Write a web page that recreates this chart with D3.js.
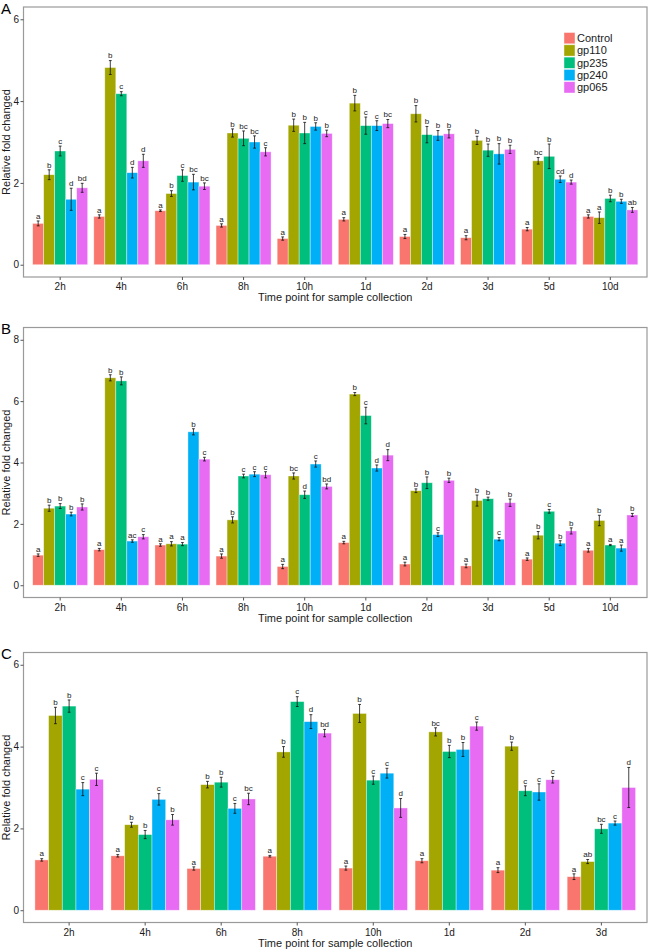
<!DOCTYPE html>
<html>
<head>
<meta charset="utf-8">
<script src="https://cdn.jsdelivr.net/npm/d3@7"></script>
<style>
  html, body { margin: 0; padding: 0; background: #fff; }
  svg { display: block; font-family: "Liberation Sans", Arial, sans-serif; }
</style>
</head>
<body>
<svg id="chart" width="650" height="950"></svg>
<script>
// ---- data ----
const groups = ["Control", "gp110", "gp235", "gp240", "gp065"];
const colors = ["#F8766D", "#A3A500", "#00BF7D", "#00B0F6", "#E76BF3"];

const timesAB = ["2h", "4h", "6h", "8h", "10h", "1d", "2d", "3d", "5d", "10d"];
const timesC = ["2h", "4h", "6h", "8h", "10h", "1d", "2d", "3d"];

const meansA = [
  [1.01, 2.20, 2.78, 1.60, 1.88],
  [1.18, 4.82, 4.18, 2.25, 2.54],
  [1.32, 1.74, 2.18, 2.02, 1.92],
  [0.96, 3.22, 3.09, 3.00, 2.76],
  [0.64, 3.41, 3.22, 3.38, 3.21],
  [1.11, 3.95, 3.40, 3.40, 3.45],
  [0.69, 3.69, 3.18, 3.16, 3.20],
  [0.66, 3.04, 2.80, 2.71, 2.82],
  [0.87, 2.54, 2.65, 2.09, 2.02],
  [1.18, 1.15, 1.62, 1.55, 1.34]
];
const errA = [
  [0.06, 0.12, 0.12, 0.27, 0.11],
  [0.04, 0.17, 0.05, 0.13, 0.16],
  [0.02, 0.07, 0.14, 0.19, 0.08],
  [0.04, 0.10, 0.18, 0.15, 0.10],
  [0.04, 0.15, 0.26, 0.09, 0.08],
  [0.04, 0.19, 0.21, 0.12, 0.10],
  [0.05, 0.20, 0.20, 0.12, 0.10],
  [0.05, 0.10, 0.15, 0.25, 0.10],
  [0.04, 0.08, 0.30, 0.08, 0.05],
  [0.04, 0.14, 0.08, 0.05, 0.06]
];
const lettersA = [
  ["a", "b", "c", "d", "bd"],
  ["a", "b", "c", "d", "d"],
  ["a", "b", "c", "bc", "bc"],
  ["a", "b", "bc", "bc", "c"],
  ["a", "b", "b", "b", "b"],
  ["a", "b", "c", "c", "bc"],
  ["a", "b", "b", "b", "b"],
  ["a", "b", "b", "b", "b"],
  ["a", "bc", "b", "cd", "d"],
  ["a", "a", "b", "b", "ab"]
];

const meansB = [
  [0.98, 2.51, 2.58, 2.32, 2.55],
  [1.16, 6.76, 6.66, 1.44, 1.58],
  [1.31, 1.35, 1.34, 5.00, 4.11],
  [0.95, 2.13, 3.56, 3.62, 3.60],
  [0.61, 3.56, 2.95, 3.95, 3.22],
  [1.39, 6.23, 5.53, 3.82, 4.24],
  [0.69, 3.08, 3.34, 1.65, 3.42],
  [0.63, 2.76, 2.82, 1.50, 2.69],
  [0.85, 1.63, 2.41, 1.37, 1.77],
  [1.14, 2.11, 1.31, 1.21, 2.29]
];
const errB = [
  [0.04, 0.10, 0.08, 0.06, 0.10],
  [0.04, 0.10, 0.13, 0.04, 0.07],
  [0.04, 0.07, 0.05, 0.10, 0.06],
  [0.07, 0.10, 0.06, 0.08, 0.10],
  [0.07, 0.10, 0.12, 0.10, 0.08],
  [0.04, 0.05, 0.27, 0.10, 0.18],
  [0.06, 0.06, 0.19, 0.06, 0.07],
  [0.06, 0.18, 0.05, 0.05, 0.12],
  [0.04, 0.12, 0.06, 0.08, 0.10],
  [0.06, 0.17, 0.02, 0.10, 0.05]
];
const lettersB = [
  ["a", "b", "b", "b", "b"],
  ["a", "b", "b", "ac", "c"],
  ["a", "a", "a", "b", "c"],
  ["a", "b", "c", "c", "c"],
  ["a", "bc", "d", "c", "bd"],
  ["a", "b", "c", "d", "d"],
  ["a", "b", "b", "c", "b"],
  ["a", "b", "b", "c", "b"],
  ["a", "b", "c", "b", "b"],
  ["a", "b", "a", "a", "b"]
];

const meansC = [
  [1.23, 4.76, 4.99, 2.96, 3.20],
  [1.33, 2.09, 1.85, 2.71, 2.21],
  [1.02, 3.07, 3.13, 2.49, 2.72],
  [1.32, 3.87, 5.10, 4.61, 4.33],
  [1.03, 4.81, 3.18, 3.35, 2.50],
  [1.21, 4.36, 3.88, 3.93, 4.50],
  [0.98, 4.01, 2.92, 2.89, 3.19],
  [0.82, 1.19, 1.99, 2.13, 3.00]
];
const errC = [
  [0.03, 0.20, 0.15, 0.16, 0.15],
  [0.03, 0.06, 0.10, 0.14, 0.13],
  [0.04, 0.08, 0.12, 0.12, 0.14],
  [0.02, 0.13, 0.12, 0.17, 0.09],
  [0.05, 0.22, 0.10, 0.12, 0.23],
  [0.05, 0.10, 0.15, 0.17, 0.10],
  [0.06, 0.10, 0.12, 0.20, 0.08],
  [0.07, 0.05, 0.11, 0.05, 0.49]
];
const lettersC = [
  ["a", "b", "b", "c", "c"],
  ["a", "b", "b", "c", "b"],
  ["a", "b", "b", "c", "bc"],
  ["a", "b", "c", "d", "bd"],
  ["a", "b", "c", "c", "d"],
  ["a", "bc", "b", "b", "c"],
  ["a", "b", "c", "c", "c"],
  ["a", "ab", "bc", "c", "d"]
];

const ticksA = [0, 2, 4, 6];
const ticksB = [0, 2, 4, 6, 8];
const ticksC = [0, 2, 4, 6];

const yTitle = "Relative fold changed";
const xTitle = "Time point for sample collection";

// ---- drawing ----
const svg = d3.select("#chart");

const panels = [
  { tag: "A", times: timesAB, means: meansA, err: errA, letters: lettersA, ticks: ticksA,
    dom: [-0.3, 6.3], top: 7, bottom: 277, legend: true },
  { tag: "B", times: timesAB, means: meansB, err: errB, letters: lettersB, ticks: ticksB,
    dom: [-0.4, 8.4], top: 327.5, bottom: 597.5, legend: false },
  { tag: "C", times: timesC, means: meansC, err: errC, letters: lettersC, ticks: ticksC,
    dom: [-0.3, 6.3], top: 652.5, bottom: 922.5, legend: false }
];

const left = 23.5, right = 647;

panels.forEach(p => {
  const g = svg.append("g");
  const x = d3.scaleBand().domain(p.times).range([left, right])
    .paddingInner(0.1).paddingOuter(0.15);
  const xs = d3.scaleBand().domain(groups).range([0, x.bandwidth()]).padding(0);
  const y = d3.scaleLinear().domain(p.dom).range([p.bottom, p.top]);

  // bars
  p.times.forEach((t, ti) => {
    const gg = g.append("g").attr("transform", `translate(${x(t)},0)`);
    groups.forEach((grp, gi) => {
      const v = p.means[ti][gi], e = p.err[ti][gi];
      const bx = xs(grp), bw = xs.bandwidth();
      gg.append("rect")
        .attr("x", bx).attr("width", bw)
        .attr("y", y(v)).attr("height", y(0) - y(v))
        .attr("fill", colors[gi])
        .attr("stroke", "#ffffff").attr("stroke-opacity", 0.55).attr("stroke-width", 0.7);
      const cx = bx + bw / 2, cap = 1.4;
      const path = d3.path();
      path.moveTo(cx, y(v - e)); path.lineTo(cx, y(v + e));
      path.moveTo(cx - cap, y(v - e)); path.lineTo(cx + cap, y(v - e));
      path.moveTo(cx - cap, y(v + e)); path.lineTo(cx + cap, y(v + e));
      gg.append("path").attr("d", path.toString())
        .attr("stroke", "#111").attr("stroke-width", 0.8).attr("fill", "none");
      gg.append("text")
        .attr("x", cx).attr("y", y(v + e) - 2.2)
        .attr("text-anchor", "middle")
        .attr("font-size", 8).attr("fill", "#222")
        .text(p.letters[ti][gi]);
    });
  });

  // panel border
  g.append("rect")
    .attr("x", left).attr("y", p.top)
    .attr("width", right - left).attr("height", p.bottom - p.top)
    .attr("fill", "none").attr("stroke", "#9a9a9a").attr("stroke-width", 1.2);

  // y axis
  const ya = g.append("g").attr("transform", `translate(${left},0)`)
    .call(d3.axisLeft(y).tickValues(p.ticks).tickSize(3).tickFormat(d3.format("d")));
  ya.select(".domain").remove();
  ya.selectAll(".tick line").attr("stroke", "#555");
  ya.selectAll(".tick text").attr("font-size", 10).attr("fill", "#1a1a1a")
    .attr("font-family", "'Liberation Sans', Arial, sans-serif").attr("x", -4.5);

  // x axis
  const xa = g.append("g").attr("transform", `translate(0,${p.bottom})`)
    .call(d3.axisBottom(x).tickSize(3).tickSizeOuter(0));
  xa.select(".domain").remove();
  xa.selectAll(".tick line").attr("stroke", "#555");
  xa.selectAll(".tick text").attr("font-size", 10).attr("fill", "#1a1a1a")
    .attr("font-family", "'Liberation Sans', Arial, sans-serif").attr("y", 6);

  // titles
  g.append("text")
    .attr("x", (left + right) / 2).attr("y", p.bottom + 24)
    .attr("text-anchor", "middle").attr("font-size", 11).attr("fill", "#1a1a1a")
    .text(xTitle);
  g.append("text")
    .attr("transform", `translate(9.5,${(p.top + p.bottom) / 2}) rotate(-90)`)
    .attr("text-anchor", "middle").attr("font-size", 11).attr("fill", "#1a1a1a")
    .text(yTitle);
  g.append("text")
    .attr("x", 1).attr("y", p.top + 6.5)
    .attr("font-size", 15).attr("fill", "#000")
    .text(p.tag);

  // legend
  if (p.legend) {
    const lg = g.append("g").attr("transform", "translate(564,32.5)");
    groups.forEach((grp, gi) => {
      lg.append("rect").attr("x", 0).attr("y", gi * 12.3)
        .attr("width", 11).attr("height", 11.3)
        .attr("fill", colors[gi])
        .attr("stroke", "#fff").attr("stroke-opacity", 0.6).attr("stroke-width", 0.7);
      lg.append("text").attr("x", 13).attr("y", gi * 12.3 + 9.6)
        .attr("font-size", 11).attr("fill", "#1a1a1a").text(grp);
    });
  }
});
</script>
</body>
</html>
